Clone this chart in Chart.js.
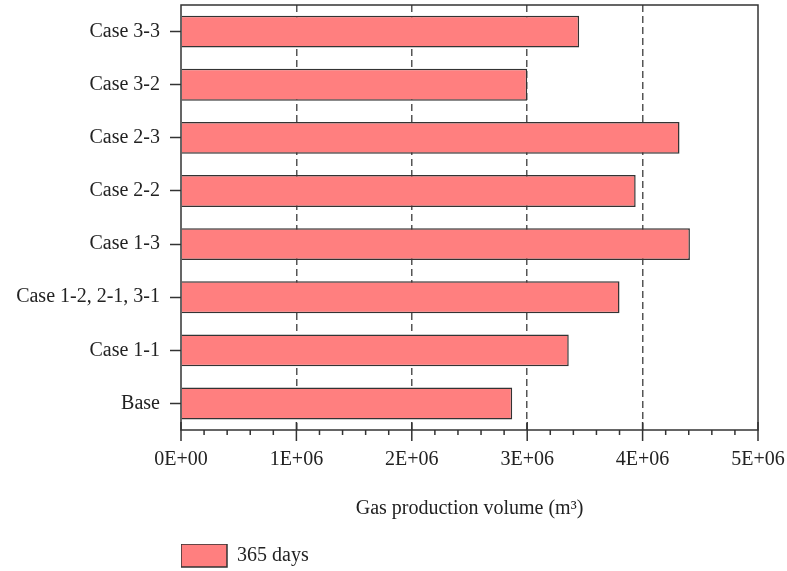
<!DOCTYPE html>
<html>
<head>
<meta charset="utf-8">
<title>Gas production volume</title>
<script src="https://cdn.jsdelivr.net/npm/chart.js@4/dist/chart.umd.min.js"></script>
<style>
  html, body { margin: 0; padding: 0; background: #ffffff; }
  #wrap { width: 787px; height: 571px; position: relative; }
</style>
</head>
<body>
<div id="wrap"><canvas id="chart" width="787" height="571"></canvas></div>
<script>
// Cases, top to bottom
const categories = ['Case 3-3', 'Case 3-2', 'Case 2-3', 'Case 2-2', 'Case 1-3', 'Case 1-2, 2-1, 3-1', 'Case 1-1', 'Base'];
// Cumulative gas production after 365 days (m³)
const production365 = [3.45e6, 3.00e6, 4.32e6, 3.94e6, 4.41e6, 3.80e6, 3.36e6, 2.87e6];
const seriesName = '365 days';
const axisTitle = 'Gas production volume (m\u00B3)';
// Axis range and ticks
const xMin = 0;
const xMax = 5e6;
const majorStep = 1e6;
const minorStep = 2e5;

const FONT = "'Liberation Serif', 'DejaVu Serif', serif";
const INK = '#222222';
const FRAME = '#333333';

function sciLabel(v) {
  if (v === 0) return '0E+00';
  const [m, e] = v.toExponential().split('e');
  const exp = parseInt(e, 10);
  const sign = exp < 0 ? '-' : '+';
  return m + 'E' + sign + String(Math.abs(exp)).padStart(2, '0');
}

function noOverhang(scale) {
  scale.paddingLeft = 0;
  scale.paddingRight = 0;
  scale.paddingTop = 0;
  scale.paddingBottom = 0;
}

// Frame round the plot area plus major / minor tick marks on the value axis
const frameAndTicks = {
  id: 'frameAndTicks',
  afterDraw(chart) {
    const { ctx, chartArea: a } = chart;
    const xs = chart.scales.x;
    ctx.save();
    ctx.setLineDash([]);
    ctx.strokeStyle = FRAME;
    ctx.lineWidth = 1.5;
    ctx.strokeRect(a.left, a.top, a.right - a.left, a.bottom - a.top);
    ctx.beginPath();
    const nMinor = Math.round((xMax - xMin) / minorStep);
    for (let i = 0; i <= nMinor; i++) {
      const v = xMin + i * minorStep;
      const px = xs.getPixelForValue(v);
      const isMajor = Math.abs(v / majorStep - Math.round(v / majorStep)) < 1e-9;
      if (isMajor) {
        ctx.moveTo(px, a.bottom - 8);
        ctx.lineTo(px, a.bottom + 11);
      } else {
        ctx.moveTo(px, a.bottom);
        ctx.lineTo(px, a.bottom + 5);
      }
    }
    ctx.stroke();
    ctx.restore();
  }
};

new Chart(document.getElementById('chart'), {
  type: 'bar',
  data: {
    labels: categories,
    datasets: [{
      label: seriesName,
      data: production365,
      backgroundColor: '#FF7F7F',
      borderColor: FRAME,
      borderWidth: 1.5,
      barPercentage: 0.6,
      categoryPercentage: 1.0
    }]
  },
  options: {
    indexAxis: 'y',
    responsive: false,
    animation: false,
    events: [],
    layout: { padding: { left: 0, right: 29, top: 5, bottom: 0 } },
    scales: {
      x: {
        type: 'linear',
        position: 'bottom',
        min: xMin,
        max: xMax,
        afterFit(scale) { scale.height = 114; noOverhang(scale); },
        ticks: {
          stepSize: majorStep,
          padding: 18,
          color: INK,
          font: { family: FONT, size: 20 },
          maxRotation: 0,
          callback: (v) => sciLabel(v)
        },
        grid: {
          display: true,
          drawOnChartArea: true,
          drawTicks: false,
          lineWidth: 1.5,
          color: (c) => (c.tick && (c.tick.value === xMin || c.tick.value === xMax)) ? 'rgba(0,0,0,0)' : '#555555'
        },
        border: { display: false, dash: [7, 4] },
        title: {
          display: true,
          text: axisTitle,
          color: INK,
          font: { family: FONT, size: 20 },
          padding: { top: 0, bottom: 23 }
        }
      },
      y: {
        position: 'left',
        afterFit(scale) { scale.width = 181; noOverhang(scale); },
        ticks: {
          padding: 10,
          color: INK,
          font: { family: FONT, size: 20 }
        },
        grid: {
          display: true,
          offset: false,
          drawOnChartArea: false,
          drawTicks: true,
          tickLength: 11,
          tickWidth: 1.5,
          tickColor: FRAME
        },
        border: { display: false }
      }
    },
    plugins: {
      legend: {
        display: true,
        position: 'bottom',
        align: 'start',
        fullSize: false,
        maxHeight: 27,
        labels: {
          boxWidth: 46,
          boxHeight: 23,
          padding: 0,
          color: INK,
          font: { family: FONT, size: 20 }
        }
      },
      tooltip: { enabled: false },
      title: { display: false }
    }
  },
  plugins: [frameAndTicks]
});
</script>
</body>
</html>
